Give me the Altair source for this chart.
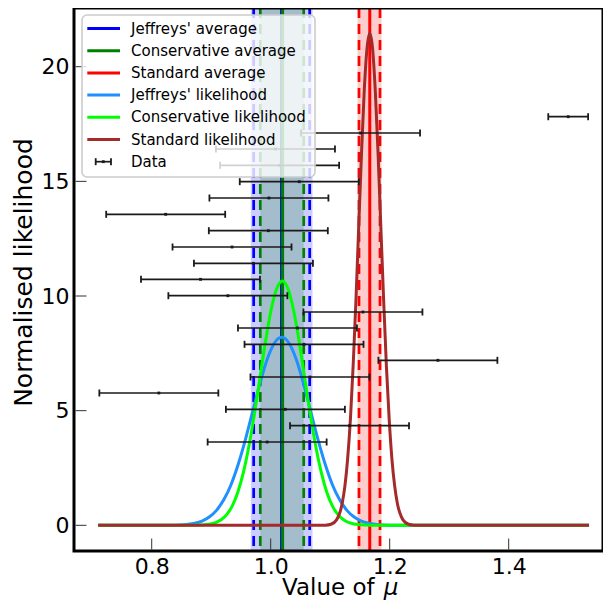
import altair as alt
import pandas as pd

# ---------------- data ----------------
# likelihood curves (x = value of mu, y = normalised likelihood)
jef_x = [0.71, 0.775, 0.8237, 0.848, 0.8724, 0.8846, 0.8967, 0.9089, 0.9211, 0.9333, 0.9454,
         0.9576, 0.9698, 0.982, 0.9941, 1.0063, 1.0185, 1.0307, 1.0429, 1.055, 1.0672, 1.0794,
         1.0916, 1.1037, 1.1159, 1.1281, 1.1403, 1.1524, 1.1646, 1.189, 1.2133, 1.262, 1.535]
jef_y = [0, 0, 0.003, 0.018, 0.091, 0.187, 0.360, 0.653, 1.11, 1.77, 2.66,
         3.75, 4.97, 6.19, 7.24, 7.95, 8.20, 7.95, 7.24, 6.19, 4.97, 3.75,
         2.66, 1.77, 1.11, 0.653, 0.360, 0.187, 0.091, 0.018, 0.003, 0, 0]

con_x = [0.71, 0.8325, 0.8699, 0.8886, 0.9073, 0.9167, 0.926, 0.9354, 0.9447, 0.9541, 0.9634,
         0.9728, 0.9821, 0.9915, 1.0008, 1.0102, 1.0195, 1.0289, 1.0382, 1.0476, 1.0569, 1.0663,
         1.0756, 1.085, 1.0943, 1.1037, 1.113, 1.1224, 1.1317, 1.1504, 1.1691, 1.2065, 1.535]
con_y = [0, 0, 0.004, 0.023, 0.118, 0.243, 0.468, 0.848, 1.443, 2.31, 3.46,
         4.88, 6.47, 8.05, 9.41, 10.33, 10.66, 10.33, 9.41, 8.05, 6.47, 4.88,
         3.46, 2.31, 1.443, 0.848, 0.468, 0.243, 0.118, 0.023, 0.004, 0, 0]

std_x = [0.71, 1.0735, 1.0921, 1.1014, 1.1107, 1.1154, 1.12, 1.1247, 1.1293, 1.134, 1.1386,
         1.1433, 1.1479, 1.1526, 1.1572, 1.1619, 1.1665, 1.1712, 1.1758, 1.1805, 1.1851, 1.1898,
         1.1944, 1.1991, 1.2037, 1.2084, 1.213, 1.2177, 1.2223, 1.2316, 1.2409, 1.2595, 1.535]
std_y = [0, 0, 0.007, 0.047, 0.238, 0.489, 0.942, 1.708, 2.90, 4.64, 6.97,
         9.82, 13.02, 16.20, 18.94, 20.80, 21.46, 20.80, 18.94, 16.20, 13.02, 9.82,
         6.97, 4.64, 2.90, 1.708, 0.942, 0.489, 0.238, 0.047, 0.007, 0, 0]

# averages: centre, dashed limits, shaded band limits
jef_avg, jef_dash, jef_band = 1.0182, [0.9714, 1.0655], [0.9665, 1.0703]
con_avg, con_dash, con_band = 1.0200, [0.9825, 1.0555], [0.9825, 1.0555]
std_avg, std_dash, std_band = 1.1665, [1.1484, 1.1837], [1.1459, 1.1862]

# data points with horizontal error bars
data_y = [3.633, 4.344, 5.059, 5.770, 6.468, 7.196, 7.894, 8.604, 9.302, 10.013, 10.728,
          11.426, 12.137, 12.848, 13.563, 14.274, 14.985, 15.700, 16.411, 17.109, 17.819]
data_x = [0.994, 1.1325, 1.0247, 0.812, 1.066, 1.281, 1.056, 1.045, 1.155, 0.928, 0.882,
          0.971, 0.935, 0.996, 0.8235, 0.997, 1.048, 1.015, 1.008, 1.151, 1.500]
data_err = [0.100, 0.100, 0.100, 0.100, 0.100, 0.100, 0.100, 0.100, 0.100, 0.100, 0.100,
            0.100, 0.100, 0.100, 0.100, 0.100, 0.100, 0.100, 0.100, 0.100, 0.0335]

x_ticks = [0.8, 1.0, 1.2, 1.4]
y_ticks = [0, 5, 10, 15, 20]

legend_labels = ["Jeffreys' average", "Conservative average", "Standard average",
                 "Jeffreys' likelihood", "Conservative likelihood", "Standard likelihood"]
x_title_text = "Value of"
x_title_symbol = "μ"
y_title_text = "Normalised likelihood"

# ---------------- chart ----------------
W, H = 529, 543
XDOM = [0.6694, 1.5585]
YDOM = [-1.12, 22.56]
FONT = "DejaVu Sans"

xaxis = alt.Axis(values=x_ticks, format=".1f", title="", ticks=False, tickSize=0,
                 domain=False, grid=False, labelFontSize=22, labelFont=FONT, labelColor="black",
                 labelPadding=5, labelFlush=False, labelOverlap=False)
yaxis = alt.Axis(values=y_ticks, format="d", title=y_title_text, ticks=False, tickSize=0,
                 domain=False, grid=False, labelFontSize=22, labelFont=FONT, labelColor="black",
                 labelPadding=5, labelFlush=False, labelOverlap=False,
                 titleFontSize=25, titleFont=FONT, titleFontWeight="normal", titleColor="black",
                 titleX=-51, titleY=264, titleBaseline="middle", titleAlign="center")


def X(f):
    return alt.X(f, type="quantitative", scale=alt.Scale(domain=XDOM, nice=False, zero=False), axis=xaxis)


def Y(f):
    return alt.Y(f, type="quantitative", scale=alt.Scale(domain=YDOM, nice=False, zero=False), axis=yaxis)


def average_layers(center, dash, band, color):
    b = alt.Chart(pd.DataFrame({"lo": [band[0]], "hi": [band[1]]})).mark_rect(
        color=color, opacity=0.2).encode(x=X("lo"), x2="hi")
    c = alt.Chart(pd.DataFrame({"v": [center]})).mark_rule(
        color=color, strokeWidth=3).encode(x=X("v"))
    d = alt.Chart(pd.DataFrame({"v": dash})).mark_rule(
        color=color, strokeWidth=2.7, strokeDash=[10, 6]).encode(x=X("v"))
    return [b, c, d]


layers = []
layers += average_layers(jef_avg, jef_dash, jef_band, "#0000ff")
layers += average_layers(con_avg, con_dash, con_band, "#008000")
layers += average_layers(std_avg, std_dash, std_band, "#ff0000")

for xs, ys, col in [(jef_x, jef_y, "#1e90ff"), (con_x, con_y, "#00ff00"), (std_x, std_y, "#a52a2a")]:
    layers.append(alt.Chart(pd.DataFrame({"x": xs, "y": ys})).mark_line(
        color=col, strokeWidth=3, interpolate="monotone").encode(x=X("x"), y=Y("y")))

pts = pd.DataFrame({"x": data_x, "y": data_y, "e": data_err})
pts["lo"] = pts["x"] - pts["e"]
pts["hi"] = pts["x"] + pts["e"]
caps = pd.DataFrame({"c": list(pts["lo"]) + list(pts["hi"]), "y": data_y + data_y})
EB = "#1a1a1a"
layers.append(alt.Chart(pts).mark_rule(color=EB, strokeWidth=1.7).encode(x=X("lo"), x2="hi", y=Y("y")))
layers.append(alt.Chart(caps).mark_tick(color=EB, orient="vertical", size=7, thickness=1.8, opacity=1).encode(
    x=X("c"), y=Y("y")))
layers.append(alt.Chart(pts).mark_square(color=EB, size=8, opacity=1).encode(x=X("x"), y=Y("y")))

# inward ticks
layers.append(alt.Chart(pd.DataFrame({"t": x_ticks})).mark_rule(color="#333333", strokeWidth=1).encode(
    x=X("t"), y=alt.value(H - 1.5), y2=alt.value(H - 12.5)))
layers.append(alt.Chart(pd.DataFrame({"t": y_ticks})).mark_rule(color="#333333", strokeWidth=1).encode(
    y=Y("t"), x=alt.value(1.5), x2=alt.value(12.5)))

# x-axis title with italic mu
one = pd.DataFrame({"a": [0]})
layers.append(alt.Chart(one).mark_text(align="left", baseline="alphabetic", fontSize=23, font=FONT,
                                       color="black", text=x_title_text).encode(
    x=alt.value(208), y=alt.value(H + 44)))
layers.append(alt.Chart(one).mark_text(align="left", baseline="alphabetic", fontSize=23, font=FONT,
                                       fontStyle="italic", color="black", text=x_title_symbol).encode(
    x=alt.value(309.8), y=alt.value(H + 44)))

# legend
layers.append(alt.Chart(one).mark_rect(fill="white", fillOpacity=0.8, stroke="#cccccc", strokeWidth=1.6,
                                       cornerRadius=5).encode(
    x=alt.value(8), x2=alt.value(241), y=alt.value(7), y2=alt.value(169)))
leg_colors = ["#0000ff", "#008000", "#ff0000", "#1e90ff", "#00ff00", "#a52a2a"]
leg = pd.DataFrame({"label": legend_labels + ["Data"],
                    "color": leg_colors + ["black"],
                    "ly": [20.5 + 22.2 * i for i in range(7)]})
layers.append(alt.Chart(leg.iloc[:6]).mark_rule(strokeWidth=3).encode(
    x=alt.value(13.3), x2=alt.value(46), y=alt.Y("ly:Q", scale=None, axis=None),
    color=alt.Color("color:N", scale=None)))
layers.append(alt.Chart(leg).mark_text(align="left", baseline="middle", fontSize=15, font=FONT,
                                       color="black").encode(
    x=alt.value(57), y=alt.Y("ly:Q", scale=None, axis=None), text="label:N"))
dly = leg["ly"].iloc[6]
layers.append(alt.Chart(one).mark_rule(color=EB, strokeWidth=1.7).encode(
    x=alt.value(21.7), x2=alt.value(37), y=alt.value(dly)))
layers.append(alt.Chart(pd.DataFrame({"px": [21.7, 37]})).mark_rule(color=EB, strokeWidth=1.8).encode(
    x=alt.X("px:Q", scale=None, axis=None), y=alt.value(dly - 3.5), y2=alt.value(dly + 3.5)))
layers.append(alt.Chart(one).mark_square(color=EB, size=8, opacity=1).encode(
    x=alt.value(29.3), y=alt.value(dly)))

# frame (spines)
layers.append(alt.Chart(one).mark_rect(fillOpacity=0, stroke="black", strokeWidth=3).encode(
    x=alt.value(0), x2=alt.value(W), y=alt.value(0), y2=alt.value(H)))

chart = alt.layer(*layers).properties(
    width=W, height=H,
    autosize=alt.AutoSizeParams(type="none"),
    padding={"left": 66, "top": 0, "right": 0, "bottom": 49},
).configure_view(strokeWidth=0)

chart.save("out.html", embed_options={"renderer": "svg", "actions": False})
